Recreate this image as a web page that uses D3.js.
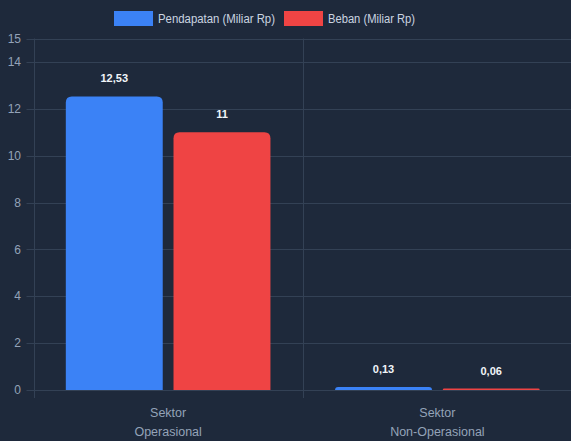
<!DOCTYPE html>
<html>
<head>
<meta charset="utf-8">
<script src="https://cdn.jsdelivr.net/npm/d3@7"></script>
<style>
  html, body { margin: 0; padding: 0; background: #1e293b; }
  svg { display: block; font-family: "Liberation Sans", Arial, sans-serif; }
</style>
</head>
<body>
<div id="chart"></div>
<script>
// data
var categories = [["Sektor", "Operasional"], ["Sektor", "Non-Operasional"]];
var seriesNames = ["Pendapatan (Miliar Rp)", "Beban (Miliar Rp)"];
var pendapatan = [12.53, 0.13];
var beban = [11, 0.06];
var yTicks = [0, 2, 4, 6, 8, 10, 12, 14, 15];
var colors = ["#3b82f6", "#ef4444"];

var width = 571, height = 441;
var margin = { top: 38.5, right: 0, bottom: 51, left: 33.5 };

var svg = d3.select('#chart').append('svg')
  .attr('width', width)
  .attr('height', height);

svg.append('rect').attr('width', width).attr('height', height).attr('fill', '#1e293b');

var yScale = d3.scaleLinear()
  .domain([0, 15])
  .range([height - margin.bottom, margin.top]);

var xScale = d3.scaleBand()
  .domain(d3.range(categories.length))
  .range([margin.left, width + 1])
  .paddingInner(0)
  .paddingOuter(0);

// grid: horizontal
svg.append('g').selectAll('line')
  .data(yTicks)
  .enter().append('line')
  .attr('x1', margin.left - 7)
  .attr('x2', width)
  .attr('y1', function(d) { return Math.round(yScale(d)) + 0.5; })
  .attr('y2', function(d) { return Math.round(yScale(d)) + 0.5; })
  .attr('stroke', '#334155')
  .attr('stroke-width', 1);

// grid: vertical at category edges
svg.append('g').selectAll('line')
  .data(d3.range(categories.length))
  .enter().append('line')
  .attr('x1', function(d) { return Math.round(xScale(d)) + 0.5; })
  .attr('x2', function(d) { return Math.round(xScale(d)) + 0.5; })
  .attr('y1', margin.top)
  .attr('y2', height - margin.bottom + 8)
  .attr('stroke', '#334155')
  .attr('stroke-width', 1);

// y tick labels
svg.append('g').selectAll('text')
  .data(yTicks)
  .enter().append('text')
  .attr('x', 21)
  .attr('y', function(d) { return yScale(d); })
  .attr('dy', '0.35em')
  .attr('text-anchor', 'end')
  .attr('fill', '#94a3b8')
  .style('font-size', '12px')
  .text(function(d) { return d; });

// x labels
var xl = svg.append('g').selectAll('text')
  .data(categories)
  .enter().append('text')
  .attr('x', function(d, i) { return xScale(i) + xScale.bandwidth() / 2; })
  .attr('y', 417)
  .attr('text-anchor', 'middle')
  .attr('fill', '#94a3b8')
  .style('font-size', '12.5px');
xl.selectAll('tspan')
  .data(function(d) { return d; })
  .enter().append('tspan')
  .attr('x', function() { return d3.select(this.parentNode).attr('x'); })
  .attr('dy', function(d, i) { return i === 0 ? 0 : 19; })
  .text(function(d) { return d; });

// bars with rounded top corners
function topRounded(x, y, w, h, r) {
  r = Math.min(r, h, w / 2);
  return 'M' + x + ',' + (y + h) +
    'V' + (y + r) +
    'Q' + x + ',' + y + ' ' + (x + r) + ',' + y +
    'H' + (x + w - r) +
    'Q' + (x + w) + ',' + y + ' ' + (x + w) + ',' + (y + r) +
    'V' + (y + h) + 'Z';
}

var series = [pendapatan, beban];
var groupWidth = xScale.bandwidth() * 0.8;
var slot = groupWidth / series.length;
var barW = slot * 0.9;
var fmt = function(v) { return String(v).replace('.', ','); };

series.forEach(function(vals, s) {
  var g = svg.append('g');
  g.selectAll('path')
    .data(vals)
    .enter().append('path')
    .attr('fill', colors[s])
    .attr('d', function(d, i) {
      var x0 = xScale(i) + xScale.bandwidth() * 0.1 + s * slot + (slot - barW) / 2;
      var y0 = yScale(d);
      return topRounded(x0, y0, barW, yScale(0) - y0, 6);
    });
  g.selectAll('text')
    .data(vals)
    .enter().append('text')
    .attr('x', function(d, i) { return xScale(i) + xScale.bandwidth() * 0.1 + s * slot + slot / 2; })
    .attr('y', function(d) { return yScale(d) - 14; })
    .attr('text-anchor', 'middle')
    .attr('fill', '#f1f5f9')
    .style('font-size', '11px')
    .style('font-weight', 'bold')
    .text(fmt);
});

// legend
var legendX = [114, 284];
var legendTextW = [117, 87];
var legend = svg.append('g').selectAll('g')
  .data(seriesNames)
  .enter().append('g')
  .attr('transform', function(d, i) { return 'translate(' + legendX[i] + ',11)'; });
legend.append('rect')
  .attr('width', 39)
  .attr('height', 15)
  .attr('fill', function(d, i) { return colors[i]; });
legend.append('text')
  .attr('x', 44)
  .attr('y', 7.5)
  .attr('dy', '0.35em')
  .attr('fill', '#cbd5e1')
  .attr('textLength', function(d, i) { return legendTextW[i]; })
  .attr('lengthAdjust', 'spacingAndGlyphs')
  .style('font-size', '12.5px')
  .text(function(d) { return d; });
</script>
</body>
</html>
